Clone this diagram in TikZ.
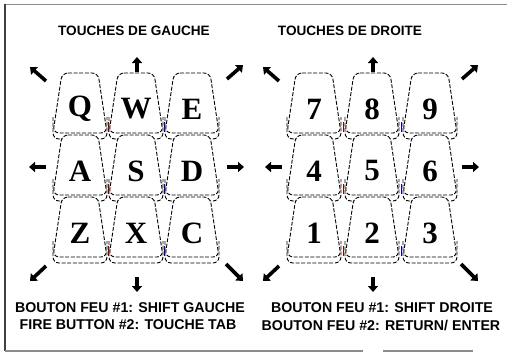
\documentclass[tikz,border=0pt]{standalone}
\usepackage{fontspec}
\newfontfamily\tfont{Liberation Sans}
\newfontfamily\kfont{Liberation Serif}
\usetikzlibrary{arrows.meta}
\tikzset{
  keyline/.style={draw=black, line width=0.9pt, dash pattern=on 4pt off 1.6pt, rounded corners=6pt},
  keyface/.style={keyline, fill=white},
  keylabel/.style={font=\kfont\bfseries\fontsize{31}{31}\selectfont, inner sep=0pt},
  dirarrow/.style={line width=3.6pt, -{Triangle[length=6pt,width=10pt]}},
  titletext/.style={font=\tfont\bfseries\fontsize{13.6}{14}\selectfont, inner sep=0pt},
  foottext/.style={font=\tfont\bfseries\fontsize{14.2}{15}\selectfont, inner sep=0pt},
  redmark/.style={draw=red!55!black, line width=0.7pt},
  bluemark/.style={draw=blue!65!black, line width=0.7pt},
  framelineA/.style={draw=black!75, line width=2pt},
  framelineB/.style={draw=black!45, line width=1.6pt},
}
% key: #1 = centre x, #2 = top y, #3 = label, #4 = name
\newcommand\onekey[4]{%
  \path[keyline] (#1-27,#2+44) -- (#1-27,#2+66) -- (#1+27,#2+66) -- (#1+27,#2+44);
  \path[keyface] (#1-18,#2) -- (#1+18,#2) -- (#1+27,#2+60) -- (#1-27,#2+60) -- cycle;
  \node[keylabel] (#4) at (#1,#2+36) {#3};
}
\begin{document}
\begin{tikzpicture}[x=1pt,y=-1pt]
\useasboundingbox (0,0) rectangle (507,356);
\fill[white] (0,0) rectangle (507,356);
% frame
\draw[framelineB] (5,4.5) -- (507,4.5);
\draw[framelineA] (4.5,4) -- (4.5,351);
\draw[framelineB] (5,351) -- (363,351);
\draw[framelineB] (383,351) -- (473,351);

% titles
\node[titletext] (tl) at (134,31) {TOUCHES DE GAUCHE};
\node[titletext] (tr) at (350,31) {TOUCHES DE DROITE};

% left keypad
\foreach \r/\t in {0/73,1/135,2/197}{
  \foreach \c/\x in {0/80,1/136,2/192}{
    \pgfmathtruncatemacro\idx{3*\r+\c}
    \ifcase\idx \def\lab{Q}\or\def\lab{W}\or\def\lab{E}\or\def\lab{A}\or\def\lab{S}\or\def\lab{D}\or\def\lab{Z}\or\def\lab{X}\or\def\lab{C}\fi
    \onekey{\x}{\t}{\lab}{L\idx}
  }
  \draw[redmark] (108,\t+49) -- (108,\t+59);
  \draw[bluemark] (164,\t+49) -- (164,\t+59);
}
% right keypad
\foreach \r/\t in {0/73,1/135,2/197}{
  \foreach \c/\x in {0/314,1/372,2/430}{
    \pgfmathtruncatemacro\idx{3*\r+\c}
    \ifcase\idx \def\lab{7}\or\def\lab{8}\or\def\lab{9}\or\def\lab{4}\or\def\lab{5}\or\def\lab{6}\or\def\lab{1}\or\def\lab{2}\or\def\lab{3}\fi
    \onekey{\x}{\t}{\lab}{R\idx}
  }
  \draw[redmark] (343,\t+49) -- (343,\t+59);
  \draw[bluemark] (401,\t+49) -- (401,\t+59);
}

% direction arrows, left
\draw[dirarrow] (46,81) -- (30,67);
\draw[dirarrow] (137,72) -- (137,57);
\draw[dirarrow] (227,79) -- (243,65);
\draw[dirarrow] (46,167) -- (29,167);
\draw[dirarrow] (227,167) -- (244,167);
\draw[dirarrow] (46,266) -- (30,281);
\draw[dirarrow] (137,277) -- (137,292);
\draw[dirarrow] (226,264) -- (243,281);
% direction arrows, right
\draw[dirarrow] (279,81) -- (263,67);
\draw[dirarrow] (373,72) -- (373,57);
\draw[dirarrow] (462,79) -- (478,65);
\draw[dirarrow] (282,167) -- (265,167);
\draw[dirarrow] (462,167) -- (479,167);
\draw[dirarrow] (279,266) -- (263,281);
\draw[dirarrow] (373,277) -- (373,292);
\draw[dirarrow] (461,264) -- (478,281);

% footers
\node[foottext] (f1) at (130,308) {BOUTON FEU \#1: SHIFT GAUCHE};
\node[foottext] (f2) at (128,325) {FIRE BUTTON \#2: TOUCHE TAB};
\node[foottext] (f3) at (382,308) {BOUTON FEU \#1: SHIFT DROITE};
\node[foottext] (f4) at (381,325) {BOUTON FEU \#2: RETURN/ ENTER};
\end{tikzpicture}
\end{document}
